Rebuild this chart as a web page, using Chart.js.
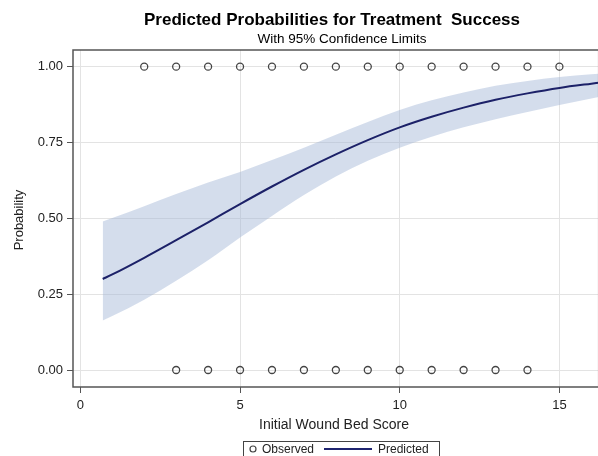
<!DOCTYPE html>
<html lang="en">
<head>
<meta charset="UTF-8">
<title>Predicted Probabilities for Treatment Success</title>
<style>
  html, body { margin: 0; padding: 0; background: #fff; overflow: hidden; }
  canvas { display: block; }
</style>
</head>
<body>
<!-- a bit wider than the window: the right side of the frame is cut off like in the original -->
<canvas id="prob" width="604" height="456"></canvas>
<script src="https://cdn.jsdelivr.net/npm/chart.js"></script>
<script>
// values
const curveX    = [0.7, 1, 2, 3, 4, 5, 6, 7, 8, 9, 10, 11, 12, 13, 14, 15, 16, 16.23];
const predicted = [0.300, 0.315, 0.370, 0.428, 0.487, 0.547, 0.605, 0.660, 0.711, 0.758, 0.800, 0.835, 0.865, 0.891, 0.912, 0.930, 0.944, 0.947];
const upperCL   = [0.490, 0.501, 0.540, 0.580, 0.618, 0.653, 0.692, 0.733, 0.776, 0.818, 0.857, 0.889, 0.915, 0.937, 0.953, 0.966, 0.975, 0.977];
const lowerCL   = [0.163, 0.178, 0.232, 0.294, 0.362, 0.437, 0.508, 0.577, 0.638, 0.690, 0.733, 0.769, 0.800, 0.827, 0.851, 0.874, 0.895, 0.900];

const successX = [2, 3, 4, 5, 6, 7, 8, 9, 10, 11, 12, 13, 14, 15];
const failureX = [3, 4, 5, 6, 7, 8, 9, 10, 11, 12, 13, 14];

const xTicks = [0, 5, 10, 15];
const yTicks = [0, 0.25, 0.5, 0.75, 1];

const FONT = "'Liberation Sans', Arial, sans-serif";
const pts = (xs, ys) => xs.map((x, i) => ({ x: x, y: ys[i] }));

const observed = successX.map(x => ({ x: x, y: 1 }))
  .concat(failureX.map(x => ({ x: x, y: 0 })));

// titles, axis titles, frame and the boxed legend
const decor = {
  id: 'decor',
  beforeDraw(chart) {
    const c = chart.ctx;
    c.save();
    c.fillStyle = '#fff';
    c.fillRect(0, 0, chart.width, chart.height);
    c.restore();
  },
  afterDraw(chart) {
    const c = chart.ctx;
    const a = chart.chartArea;
    c.save();
    c.strokeStyle = '#555';
    c.lineWidth = 1.5;
    c.strokeRect(a.left, a.top, a.right - a.left, a.bottom - a.top);

    c.fillStyle = '#000';
    c.textAlign = 'center';
    c.textBaseline = 'middle';
    c.font = 'bold 17px ' + FONT;
    c.fillText('Predicted Probabilities for Treatment  Success', 332, 20);
    c.font = '13.5px ' + FONT;
    c.fillText('With 95% Confidence Limits', 342, 39);

    c.fillStyle = '#222';
    c.font = '14px ' + FONT;
    c.fillText('Initial Wound Bed Score', 334, 425);

    c.save();
    c.translate(19, 220);
    c.rotate(-Math.PI / 2);
    c.font = '13px ' + FONT;
    c.fillText('Probability', 0, 0);
    c.restore();

    // legend
    c.strokeStyle = '#444';
    c.lineWidth = 1;
    c.strokeRect(243.5, 441.5, 196, 16);
    c.beginPath();
    c.arc(253, 449, 3, 0, Math.PI * 2);
    c.strokeStyle = '#444';
    c.lineWidth = 1.2;
    c.stroke();
    c.beginPath();
    c.moveTo(324, 449);
    c.lineTo(372, 449);
    c.strokeStyle = '#1f2470';
    c.lineWidth = 2;
    c.stroke();
    c.fillStyle = '#222';
    c.font = '12px ' + FONT;
    c.textAlign = 'left';
    c.fillText('Observed', 262, 449.5);
    c.fillText('Predicted', 378, 449.5);
    c.restore();
  }
};

new Chart(document.getElementById('prob'), {
  type: 'scatter',
  data: {
    datasets: [
      {
        label: 'Observed',
        data: observed,
        pointStyle: 'circle',
        pointRadius: 3.5,
        pointBorderWidth: 1.3,
        pointBorderColor: '#444',
        pointBackgroundColor: 'rgba(0,0,0,0)',
        showLine: false
      },
      {
        label: 'Predicted',
        data: pts(curveX, predicted),
        showLine: true,
        borderColor: '#1c2168',
        borderWidth: 2,
        pointRadius: 0,
        cubicInterpolationMode: 'monotone',
        fill: false
      },
      {
        label: 'Upper',
        data: pts(curveX, upperCL),
        showLine: true,
        borderWidth: 0,
        borderColor: 'rgba(0,0,0,0)',
        pointRadius: 0,
        cubicInterpolationMode: 'monotone',
        backgroundColor: 'rgba(159,179,213,0.45)',
        fill: 3
      },
      {
        label: 'Lower',
        data: pts(curveX, lowerCL),
        showLine: true,
        borderWidth: 0,
        borderColor: 'rgba(0,0,0,0)',
        pointRadius: 0,
        cubicInterpolationMode: 'monotone',
        fill: false
      }
    ]
  },
  options: {
    responsive: false,
    animation: false,
    layout: { padding: { top: 50, left: 0, right: 0, bottom: 0 } },
    plugins: {
      legend: { display: false },
      tooltip: { enabled: false }
    },
    scales: {
      x: {
        type: 'linear',
        min: -0.23,
        max: 16.23,
        afterBuildTicks: s => { s.ticks = xTicks.map(v => ({ value: v })); },
        afterFit: s => { s.height = 69; },
        grid: { color: '#e3e3e3', tickColor: '#555', tickLength: 6, lineWidth: 1 },
        border: { display: false },
        ticks: { color: '#222', font: { family: FONT, size: 13 }, padding: 5, maxRotation: 0 }
      },
      y: {
        min: -0.056,
        max: 1.055,
        afterBuildTicks: s => { s.ticks = yTicks.map(v => ({ value: v })); },
        afterFit: s => { s.width = 73; },
        grid: { color: '#e3e3e3', tickColor: '#555', tickLength: 6, lineWidth: 1 },
        border: { display: false },
        ticks: {
          color: '#222',
          font: { family: FONT, size: 13 },
          padding: 4,
          callback: v => Number(v).toFixed(2)
        }
      }
    }
  },
  plugins: [decor]
});
</script>
</body>
</html>
